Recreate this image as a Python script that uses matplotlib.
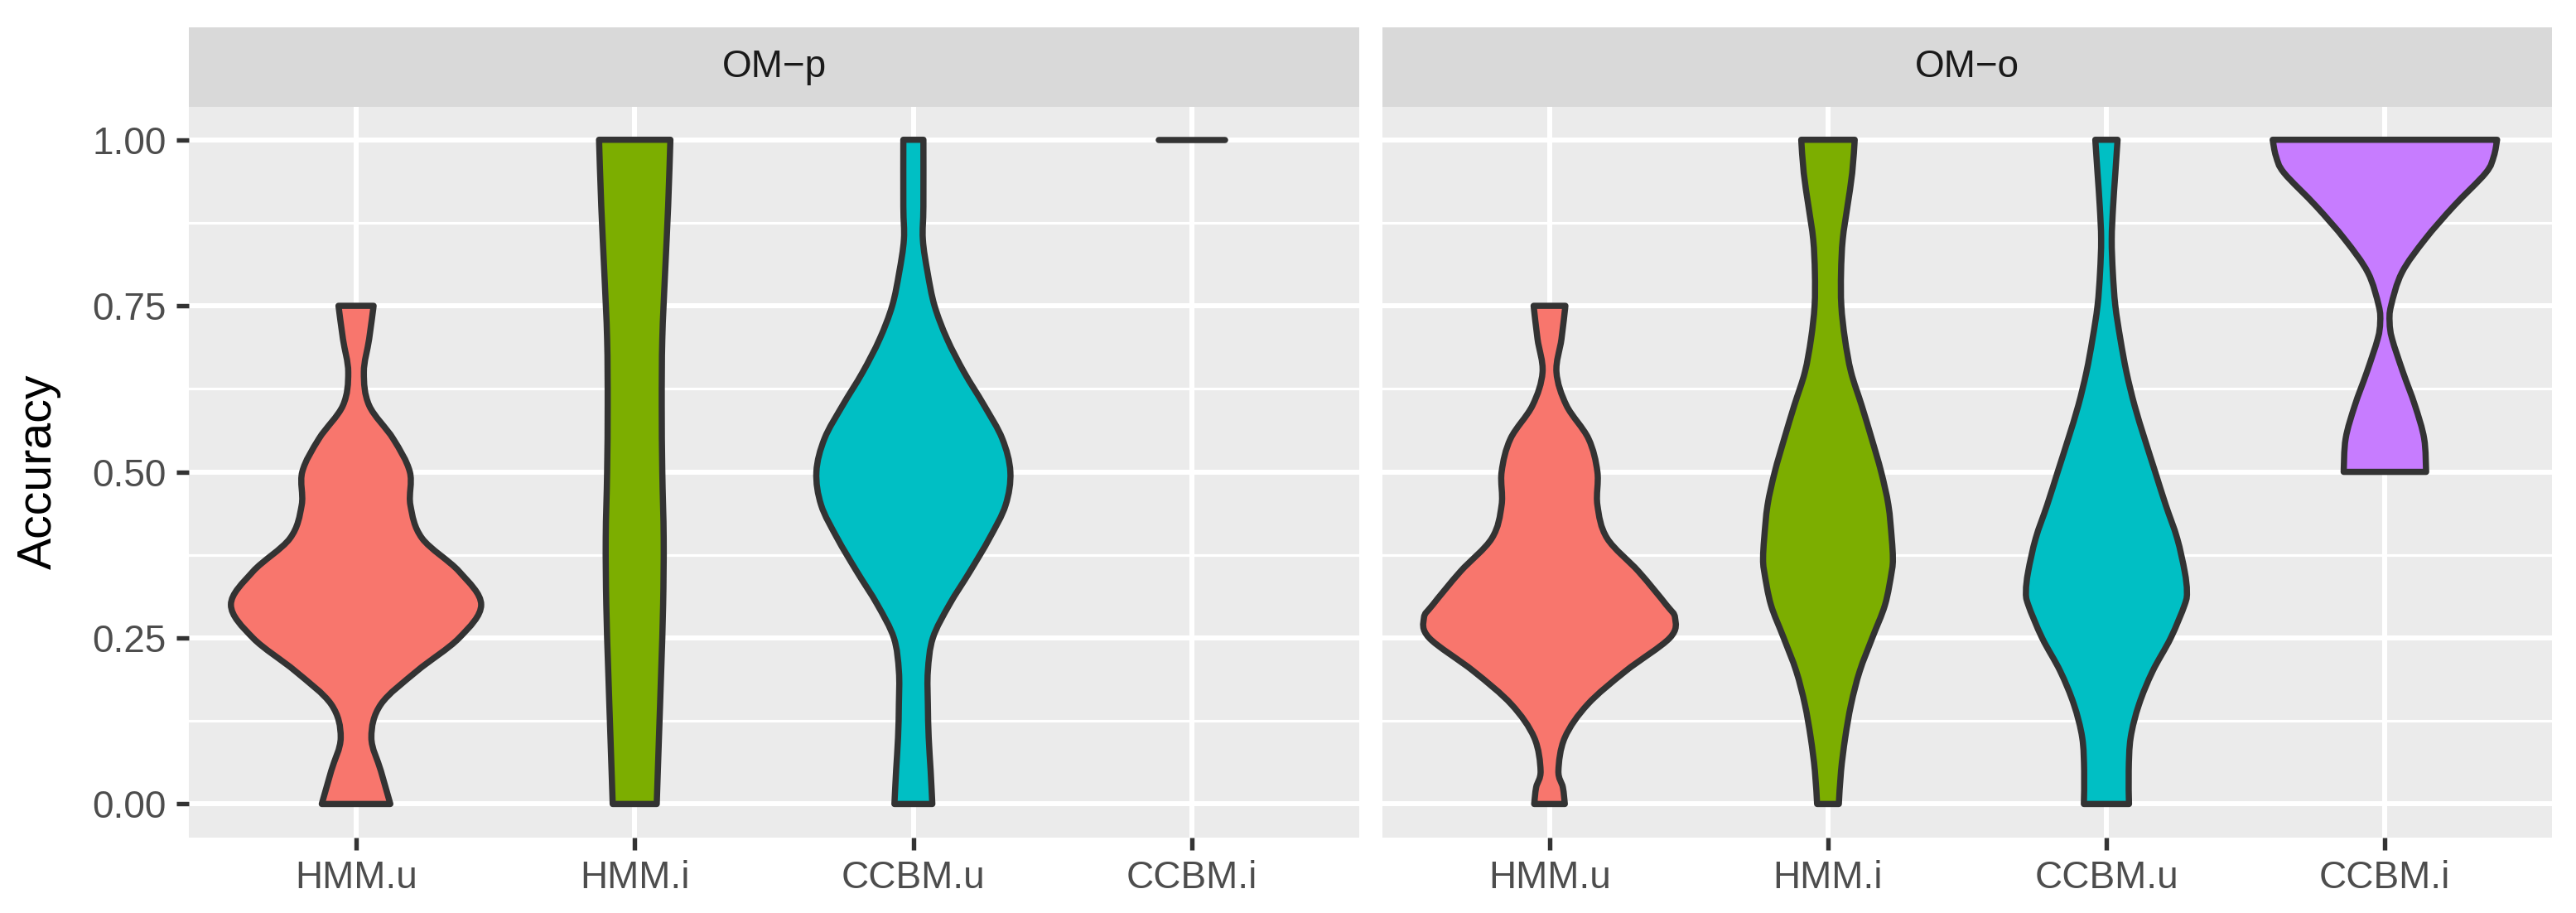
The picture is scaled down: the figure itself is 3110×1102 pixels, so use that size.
import numpy as np
import matplotlib
matplotlib.use("Agg")
import matplotlib.pyplot as plt
from matplotlib.path import Path
from matplotlib.patches import PathPatch

# facets and categories
panels = ["OM\u2212p", "OM\u2212o"]
methods = ["HMM.u", "HMM.i", "CCBM.u", "CCBM.i"]
colors = ["#F8766D", "#7CAE00", "#00BFC4", "#C77CFF"]

# violin outlines: accuracy level -> half width (x units)
# OM-p
p_hmmu_y = [0.0, 0.05, 0.10, 0.15, 0.20, 0.25, 0.30, 0.35, 0.40, 0.45, 0.50, 0.55, 0.60, 0.65, 0.70, 0.75]
p_hmmu_w = [0.123, 0.089, 0.055, 0.089, 0.218, 0.370, 0.449, 0.370, 0.237, 0.195, 0.193, 0.133, 0.047, 0.028, 0.047, 0.063]

p_hmmi_y = [0.0, 0.1, 0.2, 0.3, 0.4, 0.5, 0.6, 0.7, 0.8, 0.9, 1.0]
p_hmmi_w = [0.079, 0.087, 0.095, 0.102, 0.104, 0.099, 0.097, 0.099, 0.109, 0.120, 0.128]

p_ccbmu_y = [0.0, 0.05, 0.10, 0.15, 0.20, 0.25, 0.30, 0.35, 0.40, 0.45, 0.50, 0.55, 0.60, 0.65, 0.70, 0.75, 0.80, 0.85, 0.90, 1.0]
p_ccbmu_w = [0.068, 0.062, 0.055, 0.052, 0.052, 0.070, 0.129, 0.203, 0.273, 0.331, 0.348, 0.319, 0.254, 0.182, 0.121, 0.076, 0.051, 0.034, 0.036, 0.036]

p_ccbmi_y = [1.0, 1.0]
p_ccbmi_w = [0.118, 0.118]

# OM-o
o_hmmu_y = [0.0, 0.025, 0.05, 0.10, 0.15, 0.20, 0.25, 0.28, 0.30, 0.35, 0.40, 0.45, 0.50, 0.55, 0.60, 0.65, 0.70, 0.75]
o_hmmu_w = [0.055, 0.048, 0.032, 0.055, 0.137, 0.273, 0.432, 0.451, 0.419, 0.320, 0.207, 0.172, 0.172, 0.140, 0.061, 0.025, 0.043, 0.057]

o_hmmi_y = [0.0, 0.05, 0.10, 0.15, 0.20, 0.25, 0.30, 0.35, 0.37, 0.40, 0.45, 0.50, 0.55, 0.60, 0.65, 0.70, 0.75, 0.80, 0.85, 0.90, 0.95, 1.0]
o_hmmi_w = [0.039, 0.047, 0.062, 0.083, 0.114, 0.159, 0.205, 0.229, 0.233, 0.229, 0.217, 0.191, 0.157, 0.121, 0.083, 0.061, 0.048, 0.047, 0.053, 0.070, 0.087, 0.096]

o_ccbmu_y = [0.0, 0.05, 0.10, 0.15, 0.20, 0.25, 0.30, 0.32, 0.35, 0.40, 0.45, 0.50, 0.55, 0.60, 0.65, 0.70, 0.75, 0.80, 0.85, 0.90, 0.95, 1.0]
o_ccbmu_w = [0.081, 0.080, 0.087, 0.117, 0.166, 0.231, 0.281, 0.289, 0.281, 0.254, 0.213, 0.175, 0.137, 0.101, 0.072, 0.050, 0.032, 0.023, 0.019, 0.024, 0.032, 0.040]

o_ccbmi_y = [0.50, 0.55, 0.60, 0.65, 0.70, 0.725, 0.75, 0.80, 0.85, 0.90, 0.95, 0.975, 1.0]
o_ccbmi_w = [0.148, 0.141, 0.108, 0.065, 0.026, 0.017, 0.022, 0.061, 0.144, 0.247, 0.362, 0.391, 0.403]

violins = [
    [(p_hmmu_y, p_hmmu_w), (p_hmmi_y, p_hmmi_w), (p_ccbmu_y, p_ccbmu_w), (p_ccbmi_y, p_ccbmi_w)],
    [(o_hmmu_y, o_hmmu_w), (o_hmmi_y, o_hmmi_w), (o_ccbmu_y, o_ccbmu_w), (o_ccbmi_y, o_ccbmi_w)],
]

yticks = [0.0, 0.25, 0.5, 0.75, 1.0]
ytick_labels = ["0.00", "0.25", "0.50", "0.75", "1.00"]


def smooth_side(pts):
    """Bezier segments (Catmull-Rom style) through the outline points."""
    pts = np.asarray(pts, dtype=float)
    n = len(pts)
    verts, codes = [], []
    for j in range(n - 1):
        p0 = pts[j - 1] if j > 0 else pts[j]
        p1, p2 = pts[j], pts[j + 1]
        p3 = pts[j + 2] if j + 2 < n else pts[j + 1]
        c1 = p1 + (p2 - p0) / 6.0
        c2 = p2 - (p3 - p1) / 6.0
        verts += [c1, c2, p2]
        codes += [Path.CURVE4] * 3
    return verts, codes


def violin_path(xc, vy, vw):
    vy = np.asarray(vy, dtype=float)
    vw = np.asarray(vw, dtype=float)
    right = np.column_stack([xc + vw, vy])
    left = np.column_stack([xc - vw, vy])[::-1]
    verts, codes = [right[0]], [Path.MOVETO]
    v, c = smooth_side(right)
    verts += v
    codes += c
    verts.append(left[0])
    codes.append(Path.LINETO)
    v, c = smooth_side(left)
    verts += v
    codes += c
    verts.append(right[0])
    codes.append(Path.CLOSEPOLY)
    return Path(verts, codes)


plt.rcParams["font.family"] = ["Liberation Sans", "DejaVu Sans"]

fig = plt.figure(figsize=(3111 / 300, 1102 / 300), dpi=300)

W, H = 3111, 1102
panel_x = [(228, 1641), (1669, 3081)]
panel_top, panel_bot = 128.6, 1010.5
strip_top = 33

for i, (x0, x1) in enumerate(panel_x):
    ax = fig.add_axes([x0 / W, 1 - panel_bot / H, (x1 - x0) / W, (panel_bot - panel_top) / H])
    ax.set_facecolor("#EBEBEB")
    for s in ax.spines.values():
        s.set_visible(False)
    ax.set_xlim(0.4, 4.6)
    ax.set_ylim(-0.05, 1.05)

    # grid
    for y in [0.125, 0.375, 0.625, 0.875]:
        ax.axhline(y, color="white", lw=0.75, zorder=0)
    for y in yticks:
        ax.axhline(y, color="white", lw=1.45, zorder=0)
    for k in range(len(methods)):
        ax.axvline(k + 1, color="white", lw=1.45, zorder=0)

    for k, (vy, vw) in enumerate(violins[i]):
        xc = k + 1
        if max(vy) == min(vy):
            ax.plot([xc - vw[0], xc + vw[0]], [vy[0], vy[0]], color="#333333",
                    lw=1.8, solid_capstyle="round", zorder=3)
        else:
            patch = PathPatch(violin_path(xc, vy, vw), facecolor=colors[k],
                              edgecolor="#333333", linewidth=1.8, joinstyle="round", zorder=3)
            ax.add_patch(patch)

    ax.set_xticks(range(1, len(methods) + 1))
    ax.set_xticklabels(methods)
    ax.set_yticks(yticks)
    if i == 0:
        ax.set_yticklabels(ytick_labels)
        ax.tick_params(axis="y", length=3.5, width=1.3, color="#333333",
                       labelsize=11, labelcolor="#4D4D4D", pad=3.0)
    else:
        ax.tick_params(axis="y", left=False, labelleft=False)
    ax.tick_params(axis="x", length=3.5, width=1.3, color="#333333",
                   labelsize=11, labelcolor="#4D4D4D", pad=3.0)

    # facet strip
    sax = fig.add_axes([x0 / W, 1 - panel_top / H, (x1 - x0) / W, (panel_top - strip_top) / H])
    sax.set_facecolor("#D9D9D9")
    sax.set_xticks([])
    sax.set_yticks([])
    for s in sax.spines.values():
        s.set_visible(False)
    sax.text(0.5, 0.5, panels[i], ha="center", va="center", fontsize=11,
             color="#1A1A1A", transform=sax.transAxes)

fig.text(47 / W, 1 - 569.5 / H, "Accuracy", rotation=90, ha="center", va="center",
         fontsize=13.75, color="black")

fig.savefig("out.png", dpi=300, facecolor="white")
